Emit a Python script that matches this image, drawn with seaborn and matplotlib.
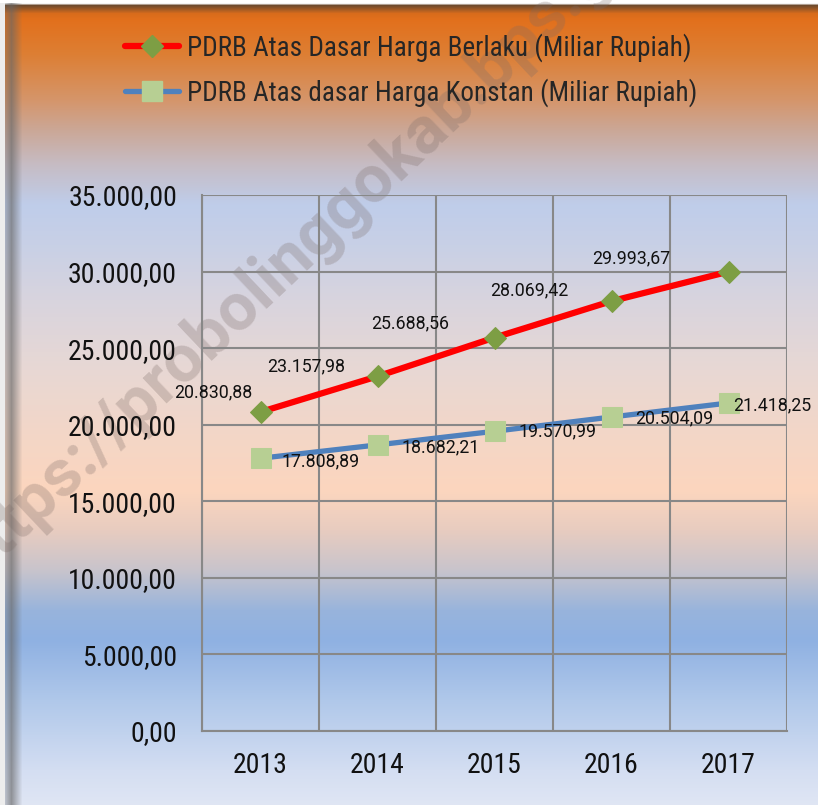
import numpy as np
import pandas as pd
import matplotlib
matplotlib.use("Agg")
import matplotlib.pyplot as plt
import seaborn as sns
from matplotlib.lines import Line2D

years = ["2013", "2014", "2015", "2016", "2017"]
berlaku = [20830.88, 23157.98, 25688.56, 28069.42, 29993.67]
konstan = [17808.89, 18682.21, 19570.99, 20504.09, 21418.25]
label_berlaku = "PDRB Atas Dasar Harga Berlaku (Miliar Rupiah)"
label_konstan = "PDRB Atas dasar Harga Konstan (Miliar Rupiah)"
y_ticks = [0, 5000, 10000, 15000, 20000, 25000, 30000, 35000]

# label offsets in pixels (dx, dy)
off_berlaku = [(-47, 20), (-71, 10), (-84, 14), (-82, 11), (-97, 13)]
off_konstan = [(60, -3), (63, -2), (63, 0), (63, -1), (44, -2)]

COND = ["Roboto Condensed", "Roboto", "DejaVu Sans"]


def fmt_id(v):
    s = f"{v:,.2f}"
    return s.replace(",", "X").replace(".", ",").replace("X", ".")


def make_background(h, w):
    stops = [
        (0, "#ffffff"), (4, "#f4f4f4"), (6, "#6e4a2c"), (14, "#d86c1c"),
        (20, "#e2701c"), (55, "#dd7f34"), (100, "#d5956a"), (130, "#cba796"),
        (165, "#c6bcc4"), (205, "#bfcdea"), (245, "#c8d0e6"), (300, "#d8d4de"),
        (370, "#e8d8d4"), (440, "#f4d6c6"), (490, "#fcd6be"), (530, "#e8ccc0"),
        (570, "#c8c4cc"), (610, "#98b4dc"), (640, "#8fb1e2"), (700, "#b0c8ea"),
        (770, "#d4def2"), (805, "#e0e6f4"),
    ]
    ys = np.array([s[0] for s in stops]) * h / 805
    cols = np.array([matplotlib.colors.to_rgb(s[1]) for s in stops])
    yy = np.arange(h)
    col = np.stack([np.interp(yy, ys, cols[:, k]) for k in range(3)], axis=1)
    img = np.repeat(col[:, None, :], w, axis=1)
    # left shadow
    xx = np.arange(w)
    shade = np.clip(1 - np.abs(xx - 11) / 11, 0, 1) * 0.65
    shade[:5] = 0
    img = img * (1 - shade[None, :, None]) + 0.4 * shade[None, :, None]
    img[:, :5, :] = 0.93
    img[:4, :, :] = 1.0
    return img


df = pd.DataFrame({
    "Tahun": years * 2,
    "Nilai": berlaku + konstan,
    "Seri": [label_berlaku] * len(years) + [label_konstan] * len(years),
})

sns.set_style("white")
plt.rcParams["font.family"] = ["Roboto", "DejaVu Sans"]

fig = plt.figure(figsize=(8.18, 8.05), dpi=100)
bg = fig.add_axes([0, 0, 1, 1], zorder=-10)
bg.imshow(make_background(805, 818), aspect="auto", extent=[0, 1, 0, 1])
bg.axis("off")

# watermark
fig.text(0.394, 0.716, "https://probolinggokab.bps.go.id", rotation=43.4,
         fontsize=48, fontweight="bold", color="#7a6a66", alpha=0.28,
         ha="center", va="center", zorder=-5)

ax = fig.add_axes([202 / 818, 1 - 731 / 805, (787 - 202) / 818, (731 - 195) / 805])
ax.set_facecolor("none")

sns.lineplot(data=df[df["Seri"] == label_berlaku], x="Tahun", y="Nilai", ax=ax,
             color="#ff0000", linewidth=4.5, marker="D", markersize=11,
             markerfacecolor="#7d9e44", markeredgecolor="#7d9e44", legend=False)
sns.lineplot(data=df[df["Seri"] == label_konstan], x="Tahun", y="Nilai", ax=ax,
             color="#4f81bd", linewidth=3.8, marker="s", markersize=15,
             markerfacecolor="#b7cf93", markeredgecolor="#b7cf93", legend=False)

for i, v in enumerate(berlaku):
    ax.annotate(fmt_id(v), (i, v), xytext=off_berlaku[i], textcoords="offset pixels",
                ha="center", va="center", fontsize=12.8, color="#111111")
for i, v in enumerate(konstan):
    ax.annotate(fmt_id(v), (i, v), xytext=off_konstan[i], textcoords="offset pixels",
                ha="center", va="center", fontsize=12.8, color="#111111")

ax.set_xlim(-0.5, len(years) - 0.5)
ax.set_ylim(0, 35000)
ax.set_yticks(y_ticks)
ax.set_yticklabels([fmt_id(t) for t in y_ticks], fontsize=20, color="#111111", family=COND)
ax.set_xticks(range(len(years)))
ax.set_xticklabels(years, fontsize=20, color="#111111", family=COND)
ax.set_xticks(np.arange(-0.5, len(years)), minor=True)
ax.tick_params(axis="x", which="major", length=0, pad=15)
ax.tick_params(axis="x", which="minor", length=5, width=1.5, color="#888888")
ax.tick_params(axis="y", length=5, width=1.5, color="#888888", pad=13)
ax.grid(True, axis="y", color="#888888", linewidth=1.5)
ax.grid(True, axis="x", which="minor", color="#888888", linewidth=1.5)
ax.set_axisbelow(True)
ax.set_xlabel("")
ax.set_ylabel("")
for side in ["left", "bottom"]:
    ax.spines[side].set_color("#888888")
    ax.spines[side].set_linewidth(1.5)
for side in ["top", "right"]:
    ax.spines[side].set_visible(False)

handles = [
    Line2D([], [], color="#ff0000", linewidth=4.5, marker="D", markersize=11,
           markerfacecolor="#7d9e44", markeredgecolor="#7d9e44"),
    Line2D([], [], color="#4f81bd", linewidth=3.8, marker="s", markersize=15,
           markerfacecolor="#b7cf93", markeredgecolor="#b7cf93"),
]
fig.legend(handles, [label_berlaku, label_konstan], loc="center",
           bbox_to_anchor=(411 / 818, 1 - 70 / 805), frameon=False,
           handlelength=2.0, handletextpad=0.3, labelspacing=0.6,
           prop={"family": COND, "size": 19.5})

fig.savefig("out.png", dpi=100)
